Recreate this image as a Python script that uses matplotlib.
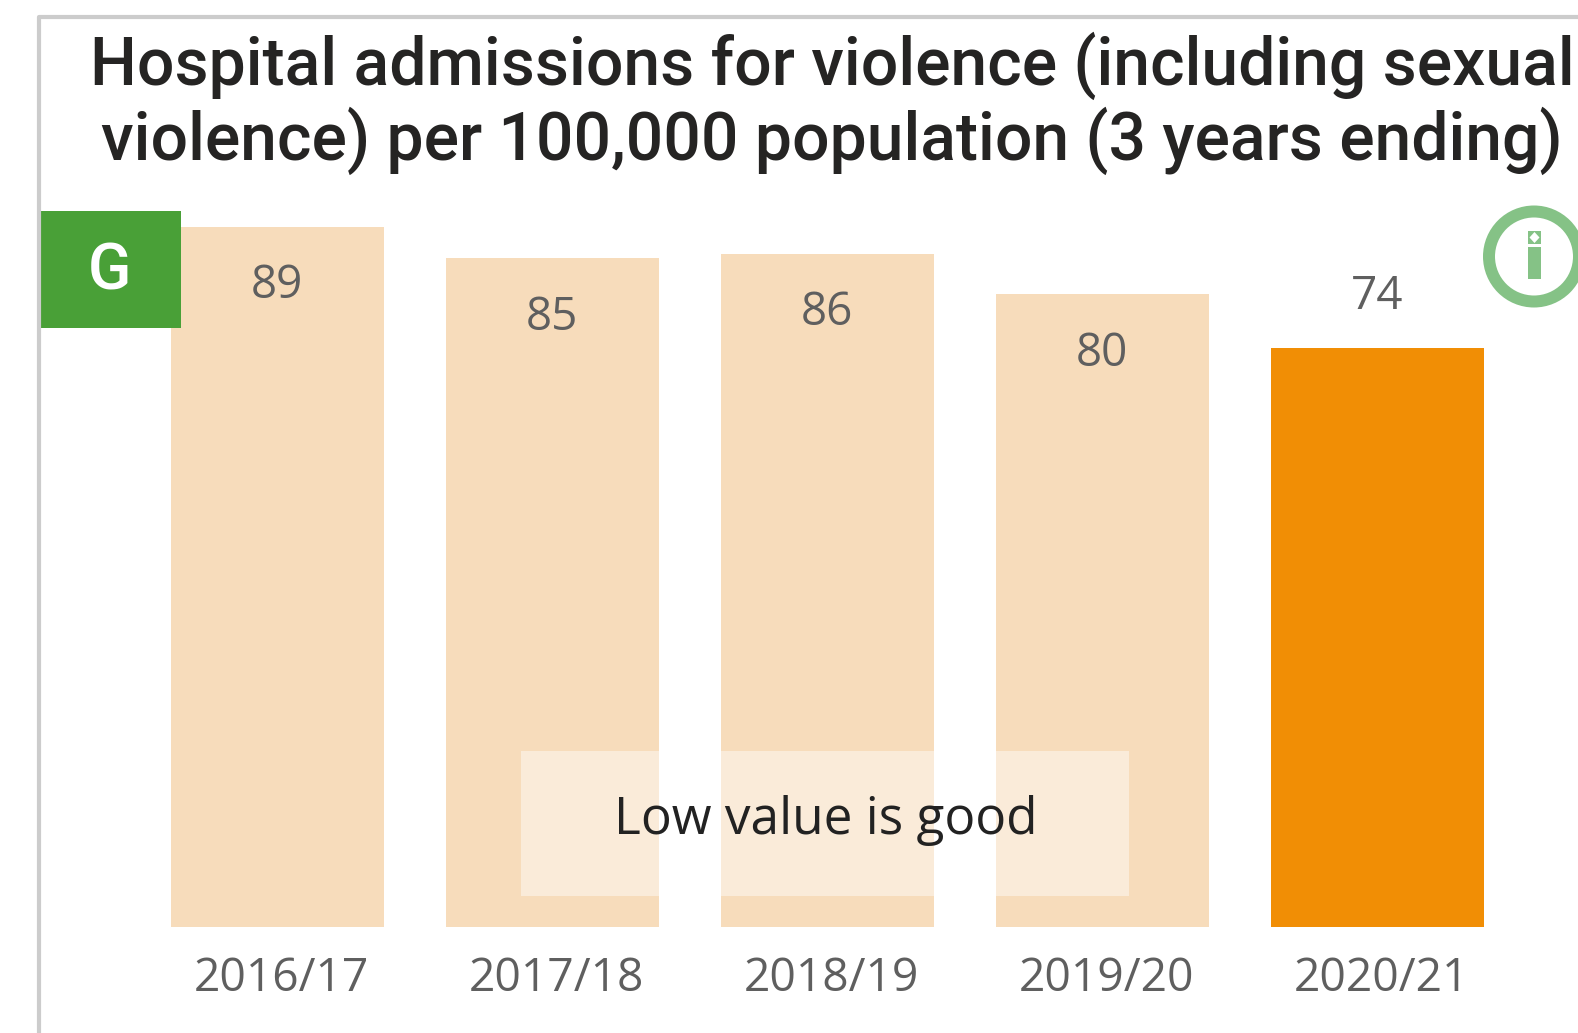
import matplotlib
matplotlib.use("Agg")
import matplotlib.pyplot as plt
from matplotlib.patches import Rectangle, Circle, Polygon

W, H = 1578, 1033
title = "Hospital admissions for violence (including sexual\nviolence) per 100,000 population (3 years ending)"
categories = ["2016/17", "2017/18", "2018/19", "2019/20", "2020/21"]
values = [89, 85, 85.6, 80.45, 73.6]
bar_colors = ["#F7DCBB"] * 4 + ["#F18E05"]
note = "Low value is good"
grade = "G"

fig = plt.figure(figsize=(W / 100, H / 100), dpi=100, facecolor="white")

# Data axes: baseline at y=927 px, top of value 89 at 227 px
bx = fig.add_axes([0, 1 - 927 / H, 1, (927 - 227) / H])
bx.set_ylim(0, 89)
bx.axis("off")
slot = 275.0
x0 = 277.0
bx.set_xlim(-x0 / slot, (W - x0) / slot)
bx.bar(range(5), values, width=213 / slot, color=bar_colors, zorder=1)
for i, v in enumerate(values):
    y = v - 7.55 if i < 4 else v + 6.55
    bx.text(i, y, f"{v:.0f}", ha="center", va="center", fontsize=33, color="#5F5F5F",
            family="Open Sans", zorder=4, clip_on=False)
    bx.text(i + 0.015, -6.6, categories[i], ha="center", va="center", fontsize=33.2,
            color="#5F5F5F", family="Open Sans", zorder=4, clip_on=False)

# overlay on top
ox = fig.add_axes([0, 0, 1, 1], zorder=5)
ox.set_xlim(0, W); ox.set_ylim(H, 0); ox.axis("off"); ox.patch.set_alpha(0)
ox.add_patch(Rectangle((521, 751), 608, 145, fc="white", alpha=0.45, ec="none"))
ox.text(826, 820, note, ha="center", va="center", fontsize=37, color="#222222", family="Open Sans")
ox.add_patch(Rectangle((41, 211), 140, 117, fc="#49A037", ec="none"))
ox.text(110, 272, grade, ha="center", va="center", fontsize=46, color="white", family="Roboto", weight="medium")
ox.plot([39, 39, W], [H, 17, 17], color="#CCCCCC", lw=3, solid_capstyle="butt")
ox.text(832, 103, title, ha="center", va="center", fontsize=47.5, color="#252423",
        family="Roboto", weight="medium", linespacing=1.12)
ox.add_patch(Circle((1534, 256.5), 45, fc="none", ec="#85C286", lw=8.64))
ox.add_patch(Rectangle((1528, 247), 13, 32, fc="#85C286", ec="none"))
ox.add_patch(Rectangle((1528, 231), 13, 13, fc="#85C286", ec="none"))
ox.add_patch(Polygon([(1534.5, 232), (1539.5, 237.5), (1534.5, 243), (1529.5, 237.5)], fc="white", ec="none"))
fig.savefig("out.png", dpi=100, facecolor="white")
